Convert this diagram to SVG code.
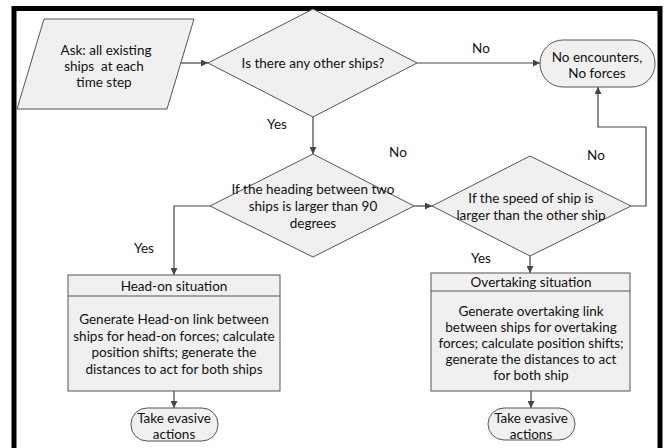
<svg xmlns="http://www.w3.org/2000/svg" width="666" height="448" viewBox="0 0 666 448">
<style>
.shape{fill:#f0f0f0;stroke:#555;stroke-width:1}
.conn{fill:none;stroke:#444;stroke-width:1.2}
text{font-family:Lato,"Liberation Sans",sans-serif;font-size:13.5px;fill:#111;text-anchor:middle;dominant-baseline:central}
</style>
<defs>
<marker id="arr" viewBox="0 0 10 10" refX="10" refY="5" markerWidth="7" markerHeight="7" orient="auto" markerUnits="userSpaceOnUse">
<path d="M0,0 L10,5 L0,10 z" fill="#444"/>
</marker>
</defs>
<rect x="0" y="0" width="666" height="448" fill="#fff"/>
<rect x="14" y="8.5" width="646" height="460" fill="none" stroke="#000" stroke-width="5"/>
<g id="connectors">
<path class="conn" d="M181,63 H208" marker-end="url(#arr)"/>
<path class="conn" d="M417,63 H540" marker-end="url(#arr)"/>
<path class="conn" d="M313,117 V154" marker-end="url(#arr)"/>
<path class="conn" d="M210,206 H174 V275" marker-end="url(#arr)"/>
<path class="conn" d="M414,206 H432" marker-end="url(#arr)"/>
<path class="conn" d="M631,206 H646 V127 H598 V87" marker-end="url(#arr)"/>
<path class="conn" d="M530,256 V273" marker-end="url(#arr)"/>
<path class="conn" d="M174,391 V408" marker-end="url(#arr)"/>
<path class="conn" d="M531,391 V408" marker-end="url(#arr)"/>
<text x="481" y="48">No</text>
<text x="277" y="124">Yes</text>
<text x="398" y="152">No</text>
<text x="144" y="248">Yes</text>
<text x="596" y="155">No</text>
<text x="481" y="258">Yes</text>
</g>
<g id="ask">
<polygon class="shape" points="44,19 194,19 167,109 17,109"/>
<text x="106" y="50">Ask: all existing</text>
<text x="104" y="66" xml:space="preserve">ships  at each</text>
<text x="104" y="82">time step</text>
</g>
<g id="any-ships">
<polygon class="shape" points="313,9 417,63 313,117 208,63"/>
<text x="313" y="63">Is there any other ships?</text>
</g>
<g id="no-encounters">
<rect class="shape" x="540" y="40" width="115" height="47" rx="23" ry="23"/>
<text x="597" y="57">No encounters,</text>
<text x="597" y="73">No forces</text>
</g>
<g id="heading">
<polygon class="shape" points="313,154 414,206 313,257 210,206"/>
<text x="313" y="189">If the heading between two</text>
<text x="313" y="206">ships is larger than 90</text>
<text x="313" y="223">degrees</text>
</g>
<g id="speed">
<polygon class="shape" points="530,156 631,206 530,256 432,206"/>
<text x="531" y="198">If the speed of ship is</text>
<text x="531" y="215">larger than the other ship</text>
</g>
<g id="head-on">
<rect class="shape" x="68" y="275" width="212" height="116"/>
<line x1="68" y1="296" x2="280" y2="296" stroke="#555" stroke-width="1"/>
<text x="174" y="285.5">Head-on situation</text>
<text x="174" y="319">Generate Head-on link between</text>
<text x="174" y="336">ships for head-on forces; calculate</text>
<text x="174" y="352">position shifts; generate the</text>
<text x="174" y="369">distances to act for both ships</text>
</g>
<g id="overtaking">
<rect class="shape" x="431" y="273" width="199" height="118"/>
<line x1="431" y1="291" x2="630" y2="291" stroke="#555" stroke-width="1"/>
<text x="531" y="281.5">Overtaking situation</text>
<text x="531" y="311">Generate overtaking link</text>
<text x="531" y="327">between ships for overtaking</text>
<text x="531" y="343">forces; calculate position shifts;</text>
<text x="531" y="359">generate the distances to act</text>
<text x="531" y="375">for both ship</text>
</g>
<g id="evasive-1">
<rect class="shape" x="131" y="408" width="87" height="33" rx="16" ry="16"/>
<text x="174" y="418">Take evasive</text>
<text x="174" y="434">actions</text>
</g>
<g id="evasive-2">
<rect class="shape" x="488" y="408" width="87" height="32" rx="16" ry="16"/>
<text x="531" y="418">Take evasive</text>
<text x="531" y="434">actions</text>
</g>
</svg>
